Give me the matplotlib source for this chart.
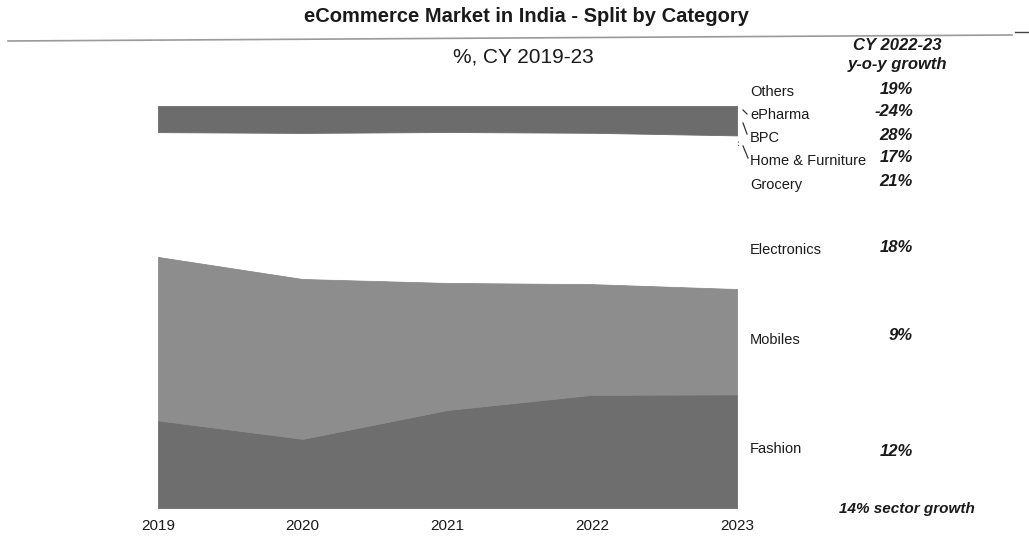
import matplotlib
matplotlib.use("Agg")
import matplotlib.pyplot as plt
from matplotlib.lines import Line2D
import numpy as np

plt.rcParams['font.family'] = ['Liberation Sans', 'DejaVu Sans']

years = [2019, 2020, 2021, 2022, 2023]
# shares in % (bottom to top)
fashion     = [21.8, 17.2, 24.5, 28.3, 28.2]
mobiles     = [40.7, 39.8, 31.8, 27.7, 26.2]
electronics = [22.0, 25.0, 25.5, 24.5, 24.0]
grocery     = [4.0, 5.5, 6.0, 6.5, 7.0]
home_furn   = [3.0, 3.4, 3.5, 3.8, 4.0]
bpc         = [1.5, 1.7, 1.8, 1.9, 2.0]
epharma     = [0.5, 0.7, 0.9, 1.1, 1.1]
others      = [6.5, 6.7, 6.5, 6.7, 7.3]

categories = ['Fashion', 'Mobiles', 'Electronics', 'Grocery', 'Home & Furniture',
              'BPC', 'ePharma', 'Others']
growth = ['12%', '9%', '18%', '21%', '17%', '28%', '-24%', '19%']

series = np.array([fashion, mobiles, electronics, grocery, home_furn, bpc, epharma, others])
series = series / series.sum(axis=0) * 100
colors = ['#6e6e6e', '#8d8d8d', '#ffffff', '#ffffff', '#ffffff', '#ffffff', '#ffffff', '#6c6c6c']

W, H = 1029, 537
fig = plt.figure(figsize=(W / 100, H / 100), dpi=100)
ax = fig.add_axes([158 / W, 1 - 508 / H, (737 - 158) / W, (508 - 106) / H])
polys = ax.stackplot(years, series, colors=colors, linewidth=0)
for p, c in zip(polys, colors):
    if c != '#ffffff':
        p.set_edgecolor(c)
        p.set_linewidth(0.6)
ax.set_xlim(2019, 2023)
ax.set_ylim(0, 100)
for s in ax.spines.values():
    s.set_visible(False)
ax.set_yticks([])
ax.set_xticks(years)
ax.set_xticklabels([str(y) for y in years], fontsize=11, color='#1a1a1a')
ax.tick_params(axis='x', length=0, pad=8)

def fx(x):
    return x / W

def fy(y):
    return 1 - y / H

# title and rule
fig.text(fx(526), fy(16), 'eCommerce Market in India - Split by Category', ha='center', va='center',
         fontsize=14.5, fontweight='bold', color='#1a1a1a')
fig.add_artist(Line2D([fx(8), fx(1012)], [fy(41), fy(35)], color='#9a9a9a', lw=1.2))
fig.add_artist(Line2D([fx(1015), fx(1029)], [fy(32), fy(32)], color='#444444', lw=1.0))
fig.text(fx(523), fy(57), '%, CY 2019-23', ha='center', va='center', fontsize=15, color='#1a1a1a')

# right header
fig.text(fx(897), fy(46), 'CY 2022-23', ha='center', va='center', fontsize=12,
         fontweight='bold', fontstyle='italic', color='#1a1a1a')
fig.text(fx(897), fy(64), 'y-o-y growth', ha='center', va='center', fontsize=12,
         fontweight='bold', fontstyle='italic', color='#1a1a1a')

label_y = {'Others': 92, 'ePharma': 115, 'BPC': 138, 'Home & Furniture': 161, 'Grocery': 185,
           'Electronics': 250, 'Mobiles': 340, 'Fashion': 449}
growth_y = {'Others': 89, 'ePharma': 112, 'BPC': 135, 'Home & Furniture': 157, 'Grocery': 181,
            'Electronics': 247, 'Mobiles': 336, 'Fashion': 451}
for cat, g in zip(categories, growth):
    fig.text(fx(750), fy(label_y[cat]), cat, ha='left', va='center', fontsize=10.5, color='#1a1a1a')
    fig.text(fx(913), fy(growth_y[cat]), g, ha='right', va='center', fontsize=12,
             fontweight='bold', fontstyle='italic', color='#1a1a1a')

fig.text(fx(907), fy(509), '14% sector growth', ha='center', va='center', fontsize=11,
         fontweight='bold', fontstyle='italic', color='#1a1a1a')

# leader lines
for (x0, y0, x1, y1) in [(743, 110, 747, 114), (743, 123, 747, 134), (743, 146, 748, 158)]:
    fig.add_artist(Line2D([fx(x0), fx(x1)], [fy(y0), fy(y1)], color='#333333', lw=0.9))
fig.add_artist(Line2D([fx(738), fx(738)], [fy(141), fy(146)], color='#555555', lw=0.8,
                      linestyle=(0, (1, 2))))

fig.savefig('out.png', dpi=100)
